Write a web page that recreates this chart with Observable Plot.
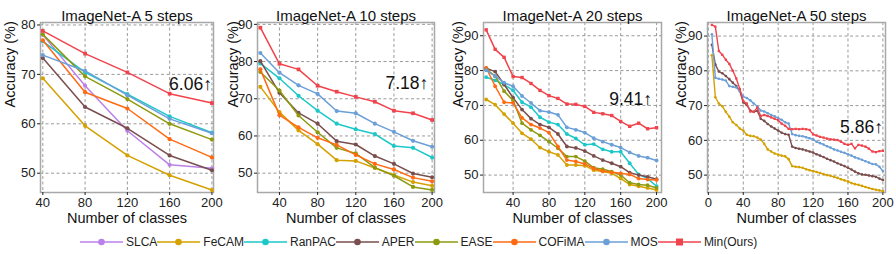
<!DOCTYPE html>
<html><head><meta charset="utf-8">
<script src="https://cdn.jsdelivr.net/npm/d3@7"></script>
<script src="https://cdn.jsdelivr.net/npm/@observablehq/plot@0.6"></script>
<style>
body{margin:0;background:#fff;}
#wrap{position:relative;width:896px;height:254px;overflow:hidden;background:#fff;font-family:"Liberation Sans",Arial,sans-serif;}
.panel{position:absolute;top:0;}
#legend{position:absolute;left:80px;top:234px;height:16px;display:flex;align-items:center;font-size:12px;color:#222;white-space:nowrap;}
.item{display:flex;align-items:center;}
.item span{margin-left:3px;}
.item svg{display:block;}
</style></head><body><div id="wrap"><div id="legend"></div></div>
<script>
const methods = ["SLCA","FeCAM","RanPAC","APER","EASE","COFiMA","MOS","Min(Ours)"];
const colors  = ["#bb80e8","#d4a100","#1cc7c9","#7a4e4e","#8e9a0e","#ff6a13","#6a9fd8","#f0434c"];

// ImageNet-A 5 steps
const classes5 = [40,80,120,160,200];
const s5_SLCA   = [78.0,67.7,58.6,51.7,51.0];
const s5_FeCAM  = [69.2,59.6,53.6,49.6,46.6];
const s5_RanPAC = [76.7,70.4,66.0,61.5,58.2];
const s5_APER   = [73.3,63.4,59.1,53.6,50.6];
const s5_EASE   = [78.1,69.6,65.0,60.0,56.8];
const s5_COFiMA = [76.9,66.4,63.1,56.9,53.2];
const s5_MOS    = [73.9,70.7,65.8,61.0,58.1];
const s5_Min    = [78.8,74.2,70.4,66.1,64.2];

// ImageNet-A 10 steps
const classes10 = [20,40,60,80,100,120,140,160,180,200];
const s10_FeCAM  = [73.2,66.4,61.5,57.8,53.5,53.3,51.4,49.5,47.6,46.6];
const s10_RanPAC = [79.5,75.5,70.8,66.8,63.3,61.8,60.5,57.3,56.8,54.2];
const s10_APER   = [80.1,71.6,66.2,63.3,58.6,57.7,54.6,52.5,49.9,48.9];
const s10_EASE   = [77.2,72.2,65.5,61.0,56.8,55.3,51.5,49.3,46.3,45.5];
const s10_COFiMA = [77.9,65.6,62.3,59.5,57.6,54.9,52.5,51.0,48.8,47.8];
const s10_MOS    = [82.3,77.0,73.6,71.3,66.7,66.1,63.3,61.1,58.7,57.1];
const s10_Min    = [89.1,79.4,77.9,73.5,71.9,70.5,69.2,66.8,66.1,64.3];

// ImageNet-A 20 steps
const classes20 = [10,20,30,40,50,60,70,80,90,100,110,120,130,140,150,160,170,180,190,200];
const s20_FeCAM  = [71.7,70.2,67.5,64.9,62.0,60.3,57.9,56.7,55.8,52.9,52.9,52.7,51.4,51.0,50.5,49.0,47.3,46.8,46.3,45.7];
const s20_RanPAC = [78.1,77.2,76.0,74.3,70.9,69.5,66.6,65.2,64.5,61.8,60.5,58.7,58.9,57.4,56.7,56.7,53.4,50.2,49.0,46.8];
const s20_APER   = [80.7,79.7,76.0,72.2,68.8,66.2,64.5,63.7,61.8,58.2,57.8,56.9,55.5,54.3,53.4,52.4,50.7,50.0,49.5,48.8];
const s20_EASE   = [80.4,78.4,74.1,71.4,64.9,63.0,61.4,59.6,57.7,55.3,55.3,54.0,52.1,51.7,51.0,50.0,47.8,47.3,47.1,46.3];
const s20_COFiMA = [80.8,75.5,70.9,70.7,66.4,64.5,63.5,62.2,58.2,54.3,53.9,53.2,51.9,51.2,50.8,50.5,50.2,49.0,48.7,48.6];
const s20_MOS    = [80.1,78.4,76.5,75.5,72.7,70.7,68.5,68.1,67.3,63.7,63.0,62.2,60.6,59.6,58.7,57.9,56.5,55.5,55.0,54.2];
const s20_Min    = [91.7,86.1,83.8,78.3,78.0,76.3,74.3,72.8,72.0,70.4,70.3,69.7,68.0,67.6,67.1,65.4,64.0,64.9,63.3,63.6];

// ImageNet-A 50 steps
const classes50 = [4,8,12,16,20,24,28,32,36,40,44,48,52,56,60,64,68,72,76,80,84,88,92,96,100,104,108,112,116,120,124,128,132,136,140,144,148,152,156,160,164,168,172,176,180,184,188,192,196,200];
const s50_FeCAM = [84.5,72.4,70.6,69.8,68.2,66.8,65.2,64.4,63.4,62.8,61.6,61.3,61.2,60.8,60.2,59.0,57.4,56.8,56.2,55.9,55.6,55.4,54.6,52.6,52.4,52.3,52.1,51.7,51.4,51.2,50.9,50.6,50.3,50.0,49.8,49.5,49.2,48.8,48.5,48.2,47.7,47.4,47.2,46.9,46.6,46.3,46.0,45.8,45.6,45.4];
const s50_APER  = [87.5,81.8,79.8,79.3,78.5,77.6,76.6,75.6,74.2,70.9,70.2,68.6,68.2,68.5,66.2,65.6,64.7,64.0,63.4,62.8,62.2,61.8,61.6,58.2,57.8,57.6,57.4,57.1,56.8,56.5,56.0,55.6,55.2,54.7,54.3,53.9,53.4,53.0,52.6,52.1,51.6,51.0,50.5,50.2,50.1,49.9,49.7,49.5,49.0,48.6];
const s50_MOS   = [90.5,78.0,77.7,77.5,77.2,75.6,75.4,75.2,74.3,72.6,72.2,71.5,70.6,69.8,68.6,68.3,67.8,67.3,66.9,66.4,65.9,65.2,64.8,61.8,61.5,61.3,61.2,60.9,60.6,60.3,59.6,59.2,58.8,58.3,57.9,57.4,57.1,56.7,56.4,56.0,55.6,55.1,54.8,54.4,54.0,53.6,53.2,53.1,52.4,51.2];
const s50_Min   = [93.2,92.7,85.7,84.6,83.2,82.0,80.0,77.8,74.8,71.3,70.6,68.3,68.2,69.4,67.0,67.3,67.0,66.6,66.2,65.8,64.8,64.2,63.3,63.2,63.3,63.2,63.3,63.2,63.0,61.7,61.4,61.0,60.8,60.5,60.3,60.2,60.1,59.6,59.0,58.7,59.0,57.7,58.7,58.5,58.2,57.6,56.8,56.6,56.9,57.0];

const notes = [
  {text:"6.06\u2191", x:200, y:68.0},
  {text:"7.18\u2191", x:196, y:74.1},
  {text:"9.41\u2191", x:195, y:71.8},
  {text:"5.86\u2191", x:200, y:63.7}
];

const FONT = '"Liberation Sans", Arial, sans-serif';

function panel(o){
  const rows = [];
  o.series.forEach(([name, vals]) => vals.forEach((v,i) => rows.push({method:name, x:o.xs[i], y:v})));
  const marks = [
    Plot.gridX(o.xTicks, {stroke:"#8f8f8f", strokeOpacity:1, strokeDasharray:"3,2.5", strokeWidth:0.9}),
    Plot.gridY(o.yTicks, {stroke:"#8f8f8f", strokeOpacity:1, strokeDasharray:"3,2.5", strokeWidth:0.9}),
    Plot.frame({stroke:"#a8a8a8", strokeWidth:1.5}),
    Plot.axisX(o.xTicks, {tickSize:3, tickPadding:2, label:null, fontSize:13}),
    Plot.axisY(o.yTicks, {tickSize:3, tickPadding:2, label:null, fontSize:13})
  ];
  o.series.forEach(([name]) => {
    const d = rows.filter(r => r.method === name);
    marks.push(Plot.line(d, {x:"x", y:"y", stroke:"method", strokeWidth:o.sw}));
    marks.push(Plot.dot(d, {x:"x", y:"y", fill:"method", r:o.r, symbol: name === "Min(Ours)" ? "square" : "circle"}));
  });
  marks.push(Plot.text([o.note], {x:"x", y:"y", text:"text", textAnchor:"end", fontSize:17.5, fill:"#111"}));
  marks.push(Plot.text([o.title], {frameAnchor:"top", dy:-12, fontSize:15, fill:"#111"}));
  marks.push(Plot.text(["Number of classes"], {frameAnchor:"bottom", dy:30, fontSize:14.5, fill:"#111"}));
  marks.push(Plot.text(["Accuracy (%)"], {frameAnchor:"left", dx:o.ydx, rotate:-90, fontSize:14.5, fill:"#111"}));
  const p = Plot.plot({
    width:224, height:230, marginLeft:o.ml, marginRight:o.mr, marginTop:22, marginBottom:38,
    style:{fontFamily:FONT, fontSize:"12px", color:"#222", background:"transparent", overflow:"visible"},
    x:{domain:o.xDomain}, y:{domain:o.yDomain},
    color:{domain:methods, range:colors},
    marks
  });
  p.classList.add("panel");
  p.style.left = o.left + "px";
  document.getElementById("wrap").appendChild(p);
}

panel({left:0, title:"ImageNet-A 5 steps", xs:classes5,
  series:[["SLCA",s5_SLCA],["FeCAM",s5_FeCAM],["RanPAC",s5_RanPAC],["APER",s5_APER],["EASE",s5_EASE],["COFiMA",s5_COFiMA],["MOS",s5_MOS],["Min(Ours)",s5_Min]],
  xDomain:[37.8,201.5], yDomain:[46.1,80.5], xTicks:[40,80,120,160,200], yTicks:[50,60,70,80],
  ml:40, mr:11, ydx:-30, note:notes[0], r:2.1, sw:1.5});

panel({left:224, title:"ImageNet-A 10 steps", xs:classes10,
  series:[["FeCAM",s10_FeCAM],["RanPAC",s10_RanPAC],["APER",s10_APER],["EASE",s10_EASE],["COFiMA",s10_COFiMA],["MOS",s10_MOS],["Min(Ours)",s10_Min]],
  xDomain:[17,202.5], yDomain:[44.8,90.5], xTicks:[40,80,120,160,200], yTicks:[50,60,70,80,90],
  ml:33, mr:14, ydx:-24, note:notes[1], r:2.1, sw:1.5});

panel({left:448, title:"ImageNet-A 20 steps", xs:classes20,
  series:[["FeCAM",s20_FeCAM],["RanPAC",s20_RanPAC],["APER",s20_APER],["EASE",s20_EASE],["COFiMA",s20_COFiMA],["MOS",s20_MOS],["Min(Ours)",s20_Min]],
  xDomain:[7,205.5], yDomain:[45.0,93.8], xTicks:[40,80,120,160,200], yTicks:[50,60,70,80,90],
  ml:35, mr:11, ydx:-25, note:notes[2], r:1.9, sw:1.5});

panel({left:672, title:"ImageNet-A 50 steps", xs:classes50,
  series:[["FeCAM",s50_FeCAM],["APER",s50_APER],["MOS",s50_MOS],["Min(Ours)",s50_Min]],
  xDomain:[-1,203], yDomain:[45.0,93.9], xTicks:[0,40,80,120,160,200], yTicks:[50,60,70,80,90],
  ml:35, mr:11, ydx:-26, note:notes[3], r:1.3, sw:1.4});

// legend
const leg = document.getElementById("legend");
methods.forEach((m,i) => {
  const item = document.createElement("div");
  item.className = "item";
  const mk = m === "Min(Ours)"
    ? `<rect x="18" y="2.5" width="7" height="7" fill="${colors[i]}"/>`
    : `<circle cx="21.5" cy="6" r="3.3" fill="${colors[i]}"/>`;
  item.innerHTML = `<svg width="43" height="12"><line x1="0" x2="43" y1="6" y2="6" stroke="${colors[i]}" stroke-width="1.5"/>${mk}</svg><span>${m}</span>`;
  leg.appendChild(item);
});
</script></body></html>
